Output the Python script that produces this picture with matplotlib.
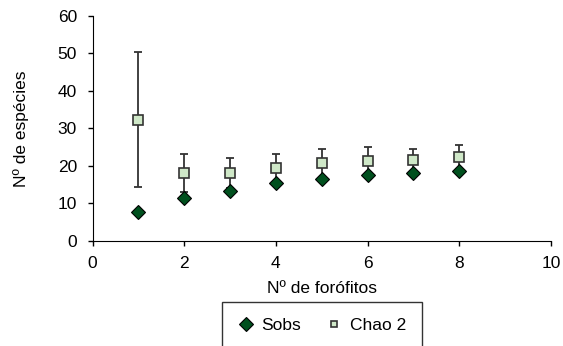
import matplotlib.pyplot as plt

plt.rcParams['font.family'] = ['Liberation Sans', 'DejaVu Sans']
plt.rcParams['font.size'] = 12.5

forofitos = [1, 2, 3, 4, 5, 6, 7, 8]
sobs = [7.8, 11.4, 13.4, 15.4, 16.6, 17.6, 18.2, 18.7]
chao2 = [32.3, 18.1, 18.1, 19.4, 20.7, 21.2, 21.5, 22.4]
chao2_err = [18.0, 5.1, 4.0, 3.8, 3.9, 3.8, 3.1, 3.3]

fig = plt.figure(figsize=(5.63, 3.46), dpi=100)
ax = fig.add_axes([0.1643, 0.3035, 0.8144, 0.6503])

ax.errorbar(forofitos, chao2, yerr=chao2_err, fmt='none', ecolor='#333333',
            elinewidth=1.3, capsize=3, capthick=1.3, zorder=2)
ax.plot(forofitos, chao2, 's', ms=7, mfc='#cfe8c8', mec='#333333', mew=1.2,
        linestyle='none', label='Chao 2', zorder=3)
ax.plot(forofitos, sobs, 'D', ms=7.2, mfc='#00501e', mec='black', mew=0.8,
        linestyle='none', label='Sobs', zorder=4)

ax.set_xlim(0, 10)
ax.set_ylim(0, 60)
ax.set_xticks([0, 2, 4, 6, 8, 10])
ax.set_yticks([0, 10, 20, 30, 40, 50, 60])
ax.spines['top'].set_visible(False)
ax.spines['right'].set_visible(False)
ax.tick_params(direction='out', length=3.6, width=1, colors='black', pad=7.5)
ax.set_xlabel('Nº de forófitos', labelpad=7)
ax.set_ylabel('Nº de espécies', labelpad=21)

h, l = ax.get_legend_handles_labels()
leg = fig.legend(h[::-1], l[::-1], ncol=2, loc='upper center',
                 bbox_to_anchor=(0.572, 0.1272), frameon=True, fancybox=False,
                 edgecolor='black', handlelength=0.9, handletextpad=0.45,
                 columnspacing=1.45, borderpad=0.9, borderaxespad=0)
leg.get_frame().set_linewidth(1)
leg.legend_handles[1].set_markersize(5)

fig.savefig('out.png', dpi=100)
